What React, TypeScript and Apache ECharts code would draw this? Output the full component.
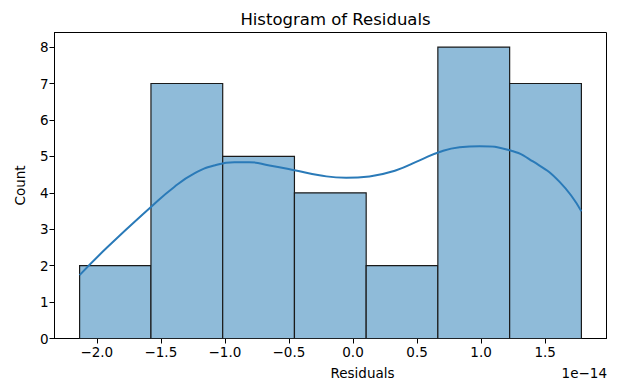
import React, { useEffect, useRef } from "react";
import * as echarts from "echarts";

const binEdges = [-2.134, -1.577, -1.017, -0.457, 0.103, 0.6625, 1.223, 1.783];
const counts = [2, 7, 5, 4, 2, 8, 7];
const kdeX = [-2.134, -1.916, -1.577, -1.395, -1.238, -1.082, -0.926, -0.809, -0.652, -0.457, -0.262, -0.053, 0.129, 0.3375, 0.52, 0.676, 0.832, 0.988, 1.223, 1.405, 1.613, 1.783];
const kdeY = [1.74, 2.51, 3.61, 4.16, 4.53, 4.75, 4.84, 4.84, 4.75, 4.62, 4.48, 4.41, 4.45, 4.62, 4.89, 5.12, 5.25, 5.28, 5.17, 4.86, 4.3, 3.49];
const xTicks = [-2.0, -1.5, -1.0, -0.5, 0.0, 0.5, 1.0, 1.5];
const yTicks = [0, 1, 2, 3, 4, 5, 6, 7, 8];

const FONT = "DejaVu Sans";

export default function App() {
  const ref = useRef<HTMLDivElement>(null);
  useEffect(() => {
    if (!ref.current) return;
    const chart = echarts.init(ref.current, null, { renderer: "svg" });
    const barData = counts.map((c, i) => [binEdges[i], binEdges[i + 1], c]);
    const lineData = kdeX.map((x, i) => [x, kdeY[i]]);
    chart.setOption({
      animation: false,
      textStyle: { fontFamily: FONT },
      title: {
        text: "Histogram of Residuals",
        left: 330.5,
        textAlign: "center",
        top: 6,
        textStyle: { fontFamily: FONT, fontSize: 16.5, fontWeight: "normal", color: "#000" },
      },
      grid: {
        left: 54.5,
        right: 17.5,
        top: 32.5,
        bottom: 48.5,
        show: true,
        borderColor: "#000",
        borderWidth: 1,
        backgroundColor: "transparent",
      },
      xAxis: {
        type: "value",
        min: -2.33,
        max: 1.979,
        axisLine: { show: true, onZero: false, lineStyle: { color: "#000", width: 1 } },
        axisTick: { show: true, length: 5, customValues: xTicks, lineStyle: { color: "#000" } },
        axisLabel: {
          customValues: xTicks,
          margin: 6,
          color: "#000",
          fontSize: 13.5,
          fontFamily: FONT,
          formatter: (v: number) => v.toFixed(1).replace("-", "\u2212"),
        },
        splitLine: { show: false },
      },
      yAxis: {
        type: "value",
        min: 0,
        max: 8.4,
        name: "Count",
        nameLocation: "middle",
        nameGap: 28,
        nameTextStyle: { fontSize: 13.5, fontFamily: FONT, color: "#000" },
        axisLine: { show: true, onZero: false, lineStyle: { color: "#000", width: 1 } },
        axisTick: { show: true, length: 5, customValues: yTicks, lineStyle: { color: "#000" } },
        axisLabel: {
          customValues: yTicks,
          margin: 6,
          color: "#000",
          fontSize: 13.5,
          fontFamily: FONT,
        },
        splitLine: { show: false },
      },
      graphic: [
        {
          type: "text",
          left: 330.5,
          top: 366,
          style: { text: "Residuals", fontSize: 13.5, fontFamily: FONT, fill: "#000", textAlign: "center" },
        },
        {
          type: "text",
          right: 17,
          top: 366,
          style: { text: "1e\u221214", fontSize: 13.5, fontFamily: FONT, fill: "#000" },
        },
      ],
      series: [
        {
          type: "custom",
          data: barData,
          encode: { x: [0, 1], y: 2 },
          clip: true,
          renderItem: (_params: any, api: any) => {
            const p0 = api.coord([api.value(0), api.value(2)]);
            const p1 = api.coord([api.value(1), 0]);
            return {
              type: "rect",
              shape: { x: p0[0], y: p0[1], width: p1[0] - p0[0], height: p1[1] - p0[1] },
              style: { fill: "#8fbbd9", stroke: "#1a1a1a", lineWidth: 1.2 },
            };
          },
          z: 2,
        },
        {
          type: "line",
          data: lineData,
          smooth: 0.5,
          showSymbol: false,
          symbol: "none",
          lineStyle: { color: "#2a7ab8", width: 2 },
          z: 3,
        },
      ],
    });
    return () => chart.dispose();
  }, []);
  return <div ref={ref} style={{ width: 624, height: 387, position: "absolute", left: 0, top: 0 }} />;
}
